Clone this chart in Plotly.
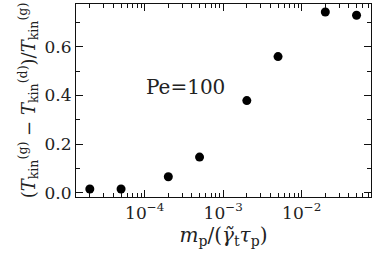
import plotly.graph_objects as go
import numpy as np

mass_ratio = [2e-5, 5e-5, 2e-4, 5e-4, 2e-3, 5e-3, 2e-2, 5e-2]
temp_diff = [0.016, 0.016, 0.066, 0.147, 0.379, 0.56, 0.743, 0.73]
x_major = [1e-4, 1e-3, 1e-2]
x_major_labels = ["10<sup>−4</sup>", "10<sup>−3</sup>", "10<sup>−2</sup>"]
y_major = [0.0, 0.2, 0.4, 0.6]
y_minor = [0.1, 0.3, 0.5, 0.7]

x_minor = [m * 10.0**e for e in range(-5, -1) for m in range(2, 10)]

font = "DejaVu Serif"
fig = go.Figure()
fig.add_trace(go.Scatter(x=mass_ratio, y=temp_diff, mode="markers",
                         marker=dict(color="black", size=9)))
fig.add_annotation(x=np.log10(3.3e-4), y=0.435, text="Pe=100", showarrow=False,
                   font=dict(family=font, size=20, color="#222"))

fig.update_layout(
    width=374, height=260,
    margin=dict(l=76, r=3, t=4, b=63),
    plot_bgcolor="white", paper_bgcolor="white",
    showlegend=False,
    font=dict(family=font, size=17, color="#222"),
)
fig.update_xaxes(
    type="log", range=[-4.875, -1.117],
    tickmode="array", tickvals=x_major, ticktext=x_major_labels,
    ticks="inside", ticklen=7, tickwidth=1.2, tickcolor="#111",
    minor=dict(tickvals=x_minor, ticks="inside", ticklen=4,
               tickwidth=1.2, tickcolor="#111"),
    showline=True, linecolor="#111", linewidth=1.2, mirror="ticks",
    showgrid=False, zeroline=False,
    title=dict(text="<i>m</i><sub>p</sub>/(<i>γ̃</i><sub>t</sub><i>τ</i><sub>p</sub>)",
               font=dict(size=20), standoff=6),
)
fig.update_yaxes(
    range=[-0.017, 0.776],
    tickmode="array", tickvals=y_major, ticktext=[f"{v:.1f}" for v in y_major],
    ticks="inside", ticklen=7, tickwidth=1.2, tickcolor="#111",
    minor=dict(tickvals=y_minor, ticks="inside", ticklen=4,
               tickwidth=1.2, tickcolor="#111"),
    showline=True, linecolor="#111", linewidth=1.2, mirror="ticks",
    showgrid=False, zeroline=False,
    title=dict(text="(<i>T</i><sub>kin</sub><sup>(g)</sup> − <i>T</i><sub>kin</sub><sup>(d)</sup>)/<i>T</i><sub>kin</sub><sup>(g)</sup>",
               font=dict(size=18), standoff=4),
)
fig.write_html("out.html", config={"displayModeBar": False},
               post_script="document.body.style.margin='0';")
